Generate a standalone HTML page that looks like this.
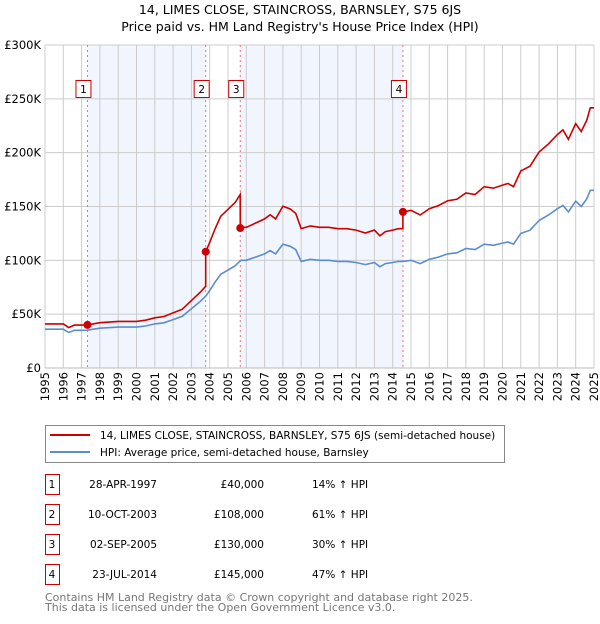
<!DOCTYPE html>
<html><head><meta charset="utf-8"><style>
body{margin:0;background:#fff;font-family:"DejaVu Sans","Liberation Sans",sans-serif;}
svg text{font-family:"DejaVu Sans","Liberation Sans",sans-serif;}
</style></head><body>
<svg id="chart" width="600" height="620" viewBox="0 0 600 620" xmlns="http://www.w3.org/2000/svg">
<text x="300" y="14" text-anchor="middle" font-size="12.5">14, LIMES CLOSE, STAINCROSS, BARNSLEY, S75 6JS</text>
<text x="300" y="31" text-anchor="middle" font-size="12.5">Price paid vs. HM Land Registry's House Price Index (HPI)</text>
<g id="plot"></g>
<g>
<rect x="45.5" y="425.5" width="459" height="37" fill="#fff" stroke="#888"/>
<line x1="50" y1="435" x2="90" y2="435" stroke="#cc0000" stroke-width="2"/>
<text x="100" y="439" font-size="10.5">14, LIMES CLOSE, STAINCROSS, BARNSLEY, S75 6JS (semi-detached house)</text>
<line x1="50" y1="452" x2="90" y2="452" stroke="#5b8dd0" stroke-width="2"/>
<text x="100" y="456" font-size="10.5">HPI: Average price, semi-detached house, Barnsley</text>
</g>
<g id="table"></g>
<text x="45" y="601" font-size="11" fill="#777">Contains HM Land Registry data © Crown copyright and database right 2025.</text>
<text x="45" y="611" font-size="11" fill="#777">This data is licensed under the Open Government Licence v3.0.</text>
</svg>
<script>
const hpiYears=[1995,1995.5,1996,1996.3,1996.6,1997,1997.3,1998,1999,2000,2000.5,2001,2001.5,2002,2002.5,2003,2003.5,2003.8,2004,2004.3,2004.6,2005,2005.4,2005.7,2006,2006.5,2007,2007.3,2007.6,2008,2008.4,2008.7,2009,2009.5,2010,2010.5,2011,2011.5,2012,2012.5,2013,2013.3,2013.6,2014,2014.3,2014.6,2015,2015.5,2016,2016.5,2017,2017.5,2018,2018.5,2019,2019.5,2020,2020.3,2020.6,2021,2021.5,2022,2022.5,2023,2023.3,2023.6,2024,2024.3,2024.6,2024.8,2025];
const hpiValues=[36,36,36,33,35,35,35.1,37,38,38,39,41,42,45,48,55,62,67,72,80,87,91,95,100,100,103,106,109,106,115,113,110,99,101,100,100,99,99,98,96,98,94,97,98,99,99,100,97,101,103,106,107,111,110,115,114,116,117,115,125,128,137,142,148,151,145,155,150,157,165,165];
const saleYears=[1997.32,2003.78,2005.67,2014.56];
const salePrices=[40,108,130,145];
const saleLabels=["1","2","3","4"];
const saleDates=["28-APR-1997","10-OCT-2003","02-SEP-2005","23-JUL-2014"];
const salePriceText=["£40,000","£108,000","£130,000","£145,000"];
const saleHpiText=["14% ↑ HPI","61% ↑ HPI","30% ↑ HPI","47% ↑ HPI"];
const yTicks=[0,50,100,150,200,250,300];
const yTickLabels=["£0","£50K","£100K","£150K","£200K","£250K","£300K"];
const xTicks=[1995,1996,1997,1998,1999,2000,2001,2002,2003,2004,2005,2006,2007,2008,2009,2010,2011,2012,2013,2014,2015,2016,2017,2018,2019,2020,2021,2022,2023,2024,2025];

const NS="http://www.w3.org/2000/svg";
const X0=45,X1=594,Y0=368,Y1=45;
const sx=v=>X0+(v-1995)/30*(X1-X0);
const sy=v=>Y0-v/300*(Y0-Y1);
function mk(tag,attrs,parent){const e=document.createElementNS(NS,tag);for(const k in attrs)e.setAttribute(k,attrs[k]);parent.appendChild(e);return e;}
const plot=document.getElementById('plot');
function hpiAt(t){for(let i=1;i<hpiYears.length;i++){if(t<=hpiYears[i]){const a=hpiYears[i-1],b=hpiYears[i];return hpiValues[i-1]+(hpiValues[i]-hpiValues[i-1])*(t-a)/(b-a);}}return hpiValues[hpiValues.length-1];}
[[0,1],[2,3]].forEach((p,i)=>{const r=mk('rect',{x:sx(saleYears[p[0]]),y:Y1,width:sx(saleYears[p[1]])-sx(saleYears[p[0]]),height:Y0-Y1,fill:'#eef3fc',opacity:0.8},plot);

});
xTicks.forEach(t=>{const l=mk('line',{x1:sx(t),x2:sx(t),y1:Y1,y2:Y0,stroke:'#ccc'},plot);


const x=sx(t)+4,y=Y0+4;
const tx=mk('text',{x:x,y:y,'text-anchor':'end','font-size':11.5,transform:'rotate(-90 '+x+' '+y+')'},plot);tx.textContent=t;

});
yTicks.forEach((t,i)=>{const l=mk('line',{x1:X0,x2:X1,y1:sy(t),y2:sy(t),stroke:'#ccc'},plot);


const tx=mk('text',{x:X0-4,y:sy(t)+4,'text-anchor':'end','font-size':11.5},plot);tx.textContent=yTickLabels[i];

});
saleYears.forEach((s,i)=>{const l=mk('line',{x1:sx(s),x2:sx(s),y1:Y1,y2:Y0,stroke:'#f07070','stroke-dasharray':'2,3'},plot);


const b=mk('rect',{x:sx(s)-11.5,y:80.5,width:15,height:17,fill:'#fff',stroke:'#cc0000'},plot);


const t=mk('text',{x:sx(s)-4,y:93,'text-anchor':'middle','font-size':10.5},plot);t.textContent=saleLabels[i];

});
const hp=hpiYears.map((y,i)=>sx(y).toFixed(1)+','+sy(hpiValues[i]).toFixed(1)).join(' ');
const hl=mk('polyline',{points:hp,fill:'none',stroke:'#5b8dd0','stroke-width':1.6},plot);


const pts=[];
function ratioAt(t){let k=0;for(let i=0;i<saleYears.length;i++)if(t>=saleYears[i])k=i;return salePrices[k]/hpiAt(saleYears[k]);}
const times=hpiYears.concat(saleYears).concat(saleYears.map(s=>s-0.001)).sort((a,b)=>a-b);
times.forEach(t=>{pts.push(sx(t).toFixed(1)+','+sy(hpiAt(t)*ratioAt(t)).toFixed(1));});
const pl=mk('polyline',{points:pts.join(' '),fill:'none',stroke:'#cc0000','stroke-width':1.6},plot);


saleYears.forEach((s,i)=>{const c=mk('circle',{cx:sx(s),cy:sy(salePrices[i]),r:4,fill:'#cc0000'},plot);

});
const ax=mk('line',{x1:X0,x2:X1,y1:Y0,y2:Y0,stroke:'#bbb'},plot);


const tb=document.getElementById('table');
saleLabels.forEach((lab,i)=>{const cy=483+i*30;
const r=mk('rect',{x:45.5,y:cy-8.5,width:14,height:20,fill:'#fff',stroke:'#cc0000'},tb);


const cells=[[52,'middle',lab],[157,'end',saleDates[i]],[264,'end',salePriceText[i]],[312,'start',saleHpiText[i]]];
cells.forEach(c=>{const t=mk('text',{x:c[0],y:cy+5,'text-anchor':c[1],'font-size':10.5},tb);t.textContent=c[2];

});});
</script>
</body></html>
